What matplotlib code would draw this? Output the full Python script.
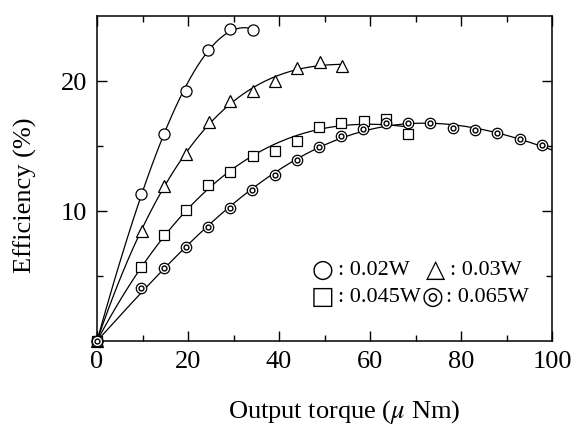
import numpy as np
import matplotlib
matplotlib.use('Agg')
import matplotlib.pyplot as plt
from matplotlib.ticker import MultipleLocator, FixedLocator

plt.rcParams['font.family'] = ['Liberation Serif', 'DejaVu Sans']
plt.rcParams['mathtext.fontset'] = 'stix'

# output torque (uNm) / efficiency (%) for each input power
x_02 = [0, 9.7, 14.7, 19.5, 24.4, 29.3, 34.2]
y_02 = [0, 11.3, 15.95, 19.25, 22.4, 24.0, 23.9]

x_03 = [0, 9.9, 14.7, 19.5, 24.6, 29.3, 34.2, 39.1, 44.0, 49.0, 53.9]
y_03 = [0, 8.45, 11.9, 14.4, 16.85, 18.45, 19.25, 20.0, 21.0, 21.45, 21.15]

x_045 = [0, 9.7, 14.7, 19.5, 24.4, 29.3, 34.2, 39.1, 43.9, 48.8, 53.7,
	58.6, 63.5, 68.4]
y_045 = [0, 5.7, 8.15, 10.1, 12.0, 13.0, 14.2, 14.6, 15.4, 16.5, 16.8,
	16.9, 17.1, 15.95]

x_065 = [0, 9.7, 14.7, 19.5, 24.4, 29.3, 34.1, 39.1, 44.0, 48.8, 53.7,
	58.5, 63.5, 68.4, 73.2, 78.2, 83.1, 88.0, 92.9, 97.8]
y_065 = [0, 4.1, 5.65, 7.25, 8.75, 10.2, 11.65, 12.75, 13.9, 14.9, 15.8,
	16.3, 16.8, 16.75, 16.75, 16.35, 16.25, 16.0, 15.55, 15.05]

# end of each fitted curve and polynomial degree
fit_end = [34.2, 54.0, 68.8, 100.0]
fit_deg = [3, 3, 3, 4]

# legend entries
leg_symbols = ['○', '△', '□', '◎']
leg_labels = [': 0.02W', ': 0.03W', ': 0.045W', ': 0.065W']

fig = plt.figure(figsize=(5.73, 4.26), dpi=100)
ax = fig.add_axes([97/573, 1 - 341/426, 455/573, 325/426])

def fit_curve(x, y, xmax, deg):
	x = np.asarray(x, float)
	y = np.asarray(y, float)
	w = np.ones_like(x)
	w[0] = 20.0  # pin the curve to the origin
	coef = np.polyfit(x, y, deg, w=w)
	xs = np.linspace(0, xmax, 200)
	ax.plot(xs, np.polyval(coef, xs), color='black', lw=0.9, zorder=2)

series = [(x_02, y_02), (x_03, y_03), (x_045, y_045), (x_065, y_065)]
for (x, y), xe, dg in zip(series, fit_end, fit_deg):
	fit_curve(x, y, xe, dg)

mk = dict(color='none', mec='black', mfc='white', mew=0.9, zorder=3, clip_on=False)
ax.plot(x_02, y_02, marker='o', ms=8, **mk)
ax.plot(x_03, y_03, marker='^', ms=9, **mk)
ax.plot(x_045, y_045, marker='s', ms=7.5, **mk)
ax.plot(x_065, y_065, marker='o', ms=7.5, **mk)
ax.plot(x_065, y_065, marker='o', ms=3.5, color='none', mec='black',
	mfc='white', mew=1.0, zorder=4, clip_on=False)

ax.set_xlim(0, 100)
ax.set_ylim(0, 25)
ax.xaxis.set_major_locator(MultipleLocator(20))
ax.xaxis.set_minor_locator(MultipleLocator(10))
ax.yaxis.set_major_locator(FixedLocator([10, 20]))
ax.yaxis.set_minor_locator(FixedLocator([5, 15]))

ax.tick_params(which='both', direction='in', top=True, right=True,
	labelsize=19, width=1.0)
ax.tick_params(which='major', length=7, pad=7)
ax.tick_params(which='minor', length=4)
for s in ax.spines.values():
	s.set_linewidth(1.1)

ax.set_xlabel(r'Output torque ($\mu$ Nm)', fontsize=19)
ax.xaxis.set_label_coords(0.543, -0.175)
ax.set_ylabel('Efficiency (%)', fontsize=19)
ax.yaxis.set_label_coords(-0.132, 0.449)

# legend written as text: symbol glyph + label
sym_x = [0.4956, 0.743, 0.4956, 0.738]
lab_x = [0.530, 0.775, 0.530, 0.768]
row_y = [0.218, 0.218, 0.135, 0.135]
for sym, lab, sx, lx, ry in zip(leg_symbols, leg_labels, sym_x, lab_x, row_y):
	ax.text(sx, ry, sym, fontsize=18, family='DejaVu Sans',
		transform=ax.transAxes, va='center', ha='center')
	ax.text(lx, ry, lab, fontsize=16, transform=ax.transAxes,
		va='center', ha='left')

fig.savefig('out.png', dpi=100)
